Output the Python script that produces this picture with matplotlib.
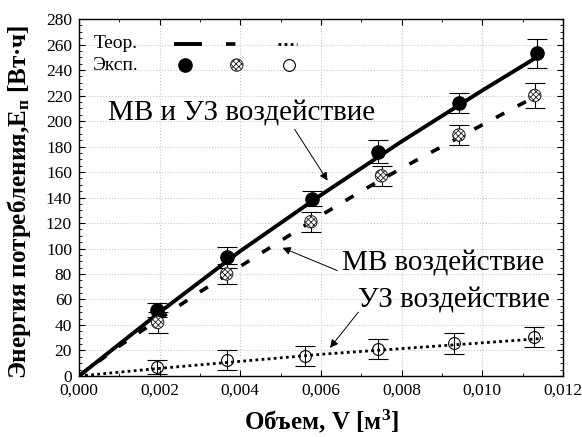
import matplotlib
matplotlib.use("Agg")
import matplotlib.pyplot as plt
from matplotlib.ticker import MultipleLocator, FixedLocator, FixedFormatter
from matplotlib.lines import Line2D

plt.rcParams['font.family'] = ['Liberation Serif', 'DejaVu Serif']
plt.rcParams['mathtext.fontset'] = 'custom'
plt.rcParams['mathtext.rm'] = 'Liberation Serif'
plt.rcParams['mathtext.it'] = 'Liberation Serif:italic'
plt.rcParams['mathtext.bf'] = 'Liberation Serif:bold'
plt.rcParams['hatch.linewidth'] = 0.6

# ---- data ----
# theory curves
theory_x_mvuz = [0, 0.002, 0.004, 0.006, 0.008, 0.010, 0.0114]
theory_y_mvuz = [0, 50, 98, 142, 184, 224, 251]
theory_x_mv = [0, 0.001, 0.002, 0.003, 0.004, 0.005, 0.006, 0.007, 0.008, 0.009, 0.010, 0.0113]
theory_y_mv = [0, 23.5, 45, 66, 86, 106, 126, 145, 163, 180, 197, 219]
theory_x_uz = [0, 0.002, 0.004, 0.006, 0.008, 0.010, 0.0115]
theory_y_uz = [0, 6, 11.5, 17, 21.5, 26, 29.5]

# experimental points
vol_mvuz = [0.00193, 0.00366, 0.00578, 0.00742, 0.00942, 0.01136]
e_mvuz = [52, 93, 139, 176, 214, 253]
err_mvuz = [5.5, 8.5, 6, 9, 8, 11.5]

vol_mv = [0.00195, 0.00366, 0.00575, 0.00750, 0.00942, 0.01130]
e_mv = [42, 80, 121, 157, 189, 220]
err_mv = [8, 7.5, 8, 8, 8, 10]

vol_uz = [0.00193, 0.00366, 0.00560, 0.00742, 0.00930, 0.01129]
e_uz = [7, 12.5, 15.5, 21, 25.5, 30.5]
err_uz = [5.5, 8, 8, 8, 8, 8]

x_ticks = [0.000, 0.002, 0.004, 0.006, 0.008, 0.010, 0.012]
x_tick_labels = ['0,000', '0,002', '0,004', '0,006', '0,008', '0,010', '0,012']
y_ticks = [0, 20, 40, 60, 80, 100, 120, 140, 160, 180, 200, 220, 240, 260, 280]

fig = plt.figure(figsize=(5.82, 4.37), dpi=100)
ax = fig.add_axes([0.1357, 0.1396, 0.9674 - 0.1357, 0.9565 - 0.1396])

ax.set_xlim(0, 0.012)
ax.set_ylim(0, 280)

ax.grid(True, which='major', color='#c8c8c8', linestyle=':', linewidth=0.8)
ax.set_axisbelow(True)

dash_mv = (0, (2.6, 4.2))
dot_uz = (0, (1.0, 1.2))

# theory lines
ax.plot(theory_x_mvuz, theory_y_mvuz, color='black', lw=2.8, solid_capstyle='round', zorder=3)
ax.plot(theory_x_mv, theory_y_mv, color='black', lw=2.6, linestyle=dash_mv, zorder=3)
ax.plot(theory_x_uz, theory_y_uz, color='black', lw=2.0, linestyle=dot_uz, zorder=3)

# error bars
for xs, ys, es in [(vol_mvuz, e_mvuz, err_mvuz), (vol_mv, e_mv, err_mv), (vol_uz, e_uz, err_uz)]:
    ax.errorbar(xs, ys, yerr=es, fmt='none', ecolor='black', elinewidth=0.8,
                capsize=7.5, capthick=0.8, zorder=4)

# markers
ax.plot(vol_mvuz, e_mvuz, 'o', ms=9.5, mfc='black', mec='black', zorder=5)
ax.scatter(vol_mv, e_mv, s=80, facecolor='white', edgecolor='#222222', hatch='xxxxxx',
           linewidths=0.7, zorder=5)
ax.plot(vol_uz, e_uz, 'o', ms=8.5, mfc='none', mec='black', mew=0.8, zorder=5)

# ticks
ax.xaxis.set_major_locator(FixedLocator(x_ticks))
ax.xaxis.set_major_formatter(FixedFormatter(x_tick_labels))
ax.xaxis.set_minor_locator(MultipleLocator(0.001))
ax.yaxis.set_major_locator(FixedLocator(y_ticks))
ax.yaxis.set_minor_locator(MultipleLocator(5))
ax.tick_params(which='both', direction='in', top=True, right=True, labelsize=12.5, pad=5)
ax.tick_params(which='major', length=4, width=0.8)
ax.tick_params(which='minor', length=2.5, width=0.6)
for sp in ax.spines.values():
    sp.set_linewidth(1.0)

ax.set_xlabel(r'Объем, V [м$^{\mathbf{3}}$]', fontsize=18, fontweight='bold', labelpad=6)
ax.set_ylabel(r'Энергия потребления,E$_{\mathbf{п}}$ [Вт·ч]', fontsize=18, fontweight='bold')
ax.yaxis.set_label_coords(-0.095, 0.489)

# in-plot legend
tr = ax.transAxes
ax.text(0.0295, 0.930, 'Теор.', transform=tr, fontsize=14, va='center', ha='left')
ax.text(0.0295, 0.871, 'Эксп.', transform=tr, fontsize=14, va='center', ha='left')
ax.add_line(Line2D([0.2004, 0.25], [0.930, 0.930], transform=tr, color='black', lw=2.8))
ax.add_line(Line2D([0.3031, 0.3533], [0.930, 0.930], transform=tr, color='black', lw=2.6,
                   linestyle=dash_mv))
ax.add_line(Line2D([0.411, 0.450], [0.930, 0.930], transform=tr, color='black', lw=2.0,
                   linestyle=dot_uz))
ax.plot([0.219], [0.871], 'o', ms=9.5, mfc='black', mec='black', transform=tr)
ax.scatter([0.326], [0.871], s=80, facecolor='white', edgecolor='#222222', hatch='xxxxxx',
           linewidths=0.7, transform=tr)
ax.plot([0.433], [0.871], 'o', ms=8.5, mfc='none', mec='black', mew=0.8, transform=tr)

# annotations
arrow = dict(arrowstyle='-|>', color='black', lw=0.7, mutation_scale=12)
ax.text(0.00072, 206, 'МВ и УЗ воздействие', fontsize=21, va='center', ha='left')
ax.annotate('', xy=(0.0062, 151.4), xytext=(0.00531, 195.3), arrowprops=arrow)
ax.text(0.00651, 88.6, 'МВ воздействие', fontsize=21, va='center', ha='left')
ax.annotate('', xy=(0.00498, 101.4), xytext=(0.00647, 81.8), arrowprops=arrow)
ax.text(0.00692, 59.6, 'УЗ воздействие', fontsize=21, va='center', ha='left')
ax.annotate('', xy=(0.00618, 20.4), xytext=(0.00697, 51.8), arrowprops=arrow)

fig.savefig('out.png', dpi=100)
